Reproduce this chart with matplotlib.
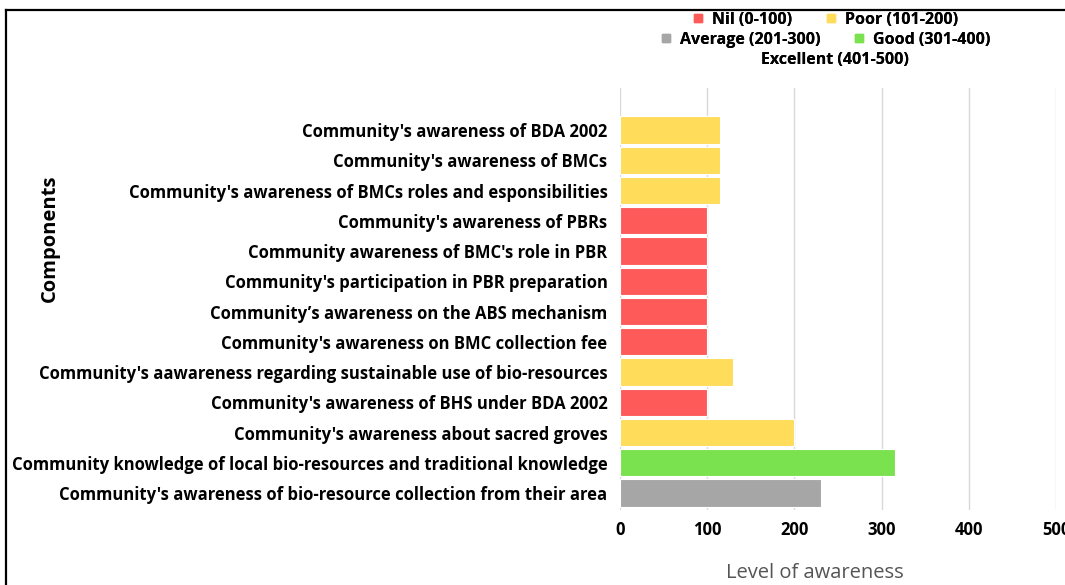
import matplotlib.pyplot as plt
from matplotlib.lines import Line2D

plt.rcParams['font.family'] = ['Open Sans', 'DejaVu Sans']

# data (top to bottom as in the chart)
components = [
    "Community's awareness of BDA 2002",
    "Community's awareness of BMCs",
    "Community's awareness of BMCs roles and esponsibilities",
    "Community's awareness of PBRs",
    "Community awareness of BMC's role in PBR",
    "Community's participation in PBR preparation",
    "Community\u2019s awareness on the ABS mechanism",
    "Community's awareness on BMC collection fee",
    "Community's aawareness regarding sustainable use of bio-resources",
    "Community's awareness of BHS under BDA 2002",
    "Community's awareness about sacred groves",
    "Community knowledge of local bio-resources and traditional knowledge",
    "Community's awareness of bio-resource collection from their area",
]
scores = [115, 115, 115, 100, 100, 100, 100, 100, 130, 100, 200, 315, 230]

levels = ['Nil (0-100)', 'Poor (101-200)', 'Average (201-300)', 'Good (301-400)', 'Excellent (401-500)']
level_colors = ['#ff5a5a', '#ffdc5a', '#a6a6a6', '#7be24f', '#ffffff']
xticks = [0, 100, 200, 300, 400, 500]


def level_of(v):
    if v <= 100:
        return 0
    if v <= 200:
        return 1
    if v <= 300:
        return 2
    if v <= 400:
        return 3
    return 4


bar_colors = [level_colors[level_of(v)] for v in scores]

fig = plt.figure(figsize=(10.65, 5.85), dpi=100)
ax = fig.add_axes([620 / 1065, 1 - 510 / 585, 436 / 1065, (510 - 88) / 585])

ypos = list(range(len(components)))
ax.barh(ypos, scores, height=0.9, color=bar_colors, edgecolor='white', linewidth=0.8, zorder=3)
ax.set_ylim(len(components) - 1 + 0.56, -1.39)
ax.set_xlim(0, 500)
ax.set_xticks(xticks)
ax.set_xticklabels([str(t) for t in xticks], fontsize=12, fontweight='bold')
ax.set_yticks(ypos)
ax.set_yticklabels(components, fontsize=12, fontweight='bold')
ax.tick_params(axis='both', length=0)
ax.tick_params(axis='y', pad=9)
ax.tick_params(axis='x', pad=8)
ax.grid(axis='x', color='#d9d9d9', linewidth=1, zorder=0)
for s in ax.spines.values():
    s.set_visible(False)

# legend in three rows
handles = [Line2D([], [], marker='s', linestyle='none', markersize=6,
                  color=c if i < 4 else 'none') for i, c in enumerate(level_colors)]
rows = [([0, 1], 20), ([2, 3], 40), ([4], 60)]
for idx, ypix in rows:
    leg = fig.legend([handles[i] for i in idx], [levels[i] for i in idx],
                     loc='center', bbox_to_anchor=(825 / 1065, 1 - ypix / 585),
                     ncol=len(idx), frameon=False, handlelength=0.8, handletextpad=0.5,
                     columnspacing=2.0, borderpad=0, prop={'size': 11.5, 'weight': 'bold'})
    fig.add_artist(leg)

fig.text(50 / 1065, 1 - 238 / 585, 'Components', rotation=90, ha='center', va='center',
         fontsize=14.5, fontweight='bold')
fig.text(815 / 1065, 1 - 573 / 585, 'Level of awareness', ha='center', va='center',
         fontsize=14.5, color='#555555')

# border of the cropped frame
fig.add_artist(Line2D([6 / 1065, 1], [1 - 10 / 585, 1 - 10 / 585], color='black', linewidth=1.6))
fig.add_artist(Line2D([6 / 1065, 6 / 1065], [0, 1 - 10 / 585], color='black', linewidth=1.6))

fig.savefig('out.png', dpi=100)
